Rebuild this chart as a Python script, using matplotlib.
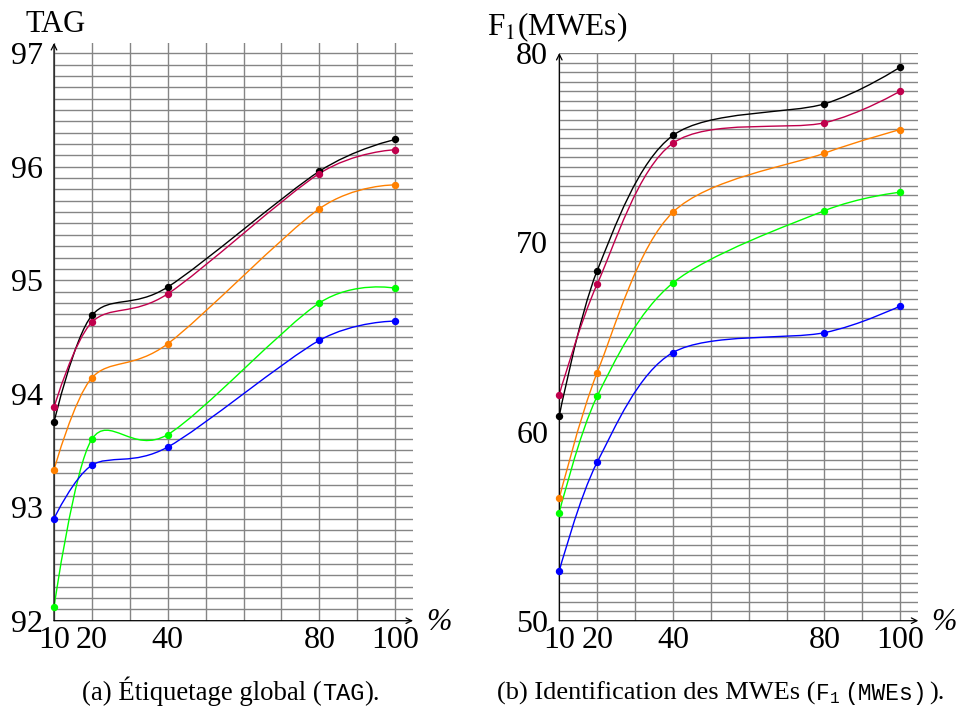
import numpy as np
import matplotlib
matplotlib.use("Agg")
import matplotlib.pyplot as plt
from matplotlib.path import Path
from matplotlib.patches import PathPatch

plt.rcParams["font.family"] = ["Liberation Serif", "DejaVu Serif"]
plt.rcParams["mathtext.fontset"] = "stix"

# share of the training data (%)
sizes = [10, 20, 40, 80, 100]
series_colors = ["black", "#c0004c", "#ff8000", "#00ff00", "#0000ff"]

# (a) TAG
tag_black = [93.75, 94.69, 94.94, 95.96, 96.24]
tag_purple = [93.88, 94.63, 94.88, 95.94, 96.15]
tag_orange = [93.33, 94.14, 94.44, 95.63, 95.84]
tag_green = [92.12, 93.60, 93.64, 94.80, 94.93]
tag_blue = [92.90, 93.37, 93.53, 94.47, 94.64]

# (b) F1(MWEs)
mwe_black = [60.83, 68.51, 75.66, 77.33, 79.27]
mwe_purple = [61.96, 67.80, 75.25, 76.33, 78.00]
mwe_orange = [56.47, 63.12, 71.60, 74.72, 75.97]
mwe_green = [55.72, 61.87, 67.86, 71.68, 72.66]
mwe_blue = [52.63, 58.38, 64.18, 65.23, 66.64]

W, H = 959, 707
GRID = "#858585"
TICK_FS = 23


def smooth_path(xs, ys, k=0.2775 * 0.55):
    # pgfplots "smooth": cardinal bezier, first/last control point on the end point
    p = np.column_stack([xs, ys]).astype(float)
    n = len(p)
    verts, codes = [p[0]], [Path.MOVETO]
    for i in range(n - 1):
        c1 = p[i] + k * (p[i + 1] - p[i - 1]) if i > 0 else p[i]
        c2 = p[i + 1] - k * (p[i + 2] - p[i]) if i + 2 < n else p[i + 1]
        verts += [c1, c2, p[i + 1]]
        codes += [Path.CURVE4] * 3
    return Path(verts, codes)


def draw_panel(ax, series, ylim, ymajor, yminor_step, xmax):
    ax.set_xlim(10, xmax)
    ax.set_ylim(*ylim)
    for s in ax.spines.values():
        s.set_visible(False)
    ax.set_xticks(sizes)
    ax.set_xticks(np.arange(10, 101, 10), minor=True)
    ax.set_yticks(ymajor)
    ax.set_yticks(np.arange(ymajor[0], ymajor[-1] + 1e-6, yminor_step), minor=True)
    ax.grid(True, which="both", color=GRID, lw=1.0)
    ax.set_axisbelow(True)
    ax.tick_params(which="both", length=0, labelsize=TICK_FS)
    ax.tick_params(axis="y", pad=8)
    ax.tick_params(axis="x", pad=4)
    for ys, c in zip(series, series_colors):
        ax.add_patch(PathPatch(smooth_path(sizes, ys), fc="none", ec=c, lw=1.0,
                               zorder=3, clip_on=False))
        ax.plot(sizes, ys, "o", color=c, ms=4.3, zorder=4, clip_on=False)
    arrow = dict(arrowstyle="->", color="black", lw=0.9, shrinkA=0, shrinkB=0)
    ax.annotate("", xy=(1, 0), xytext=(0, 0), xycoords="axes fraction", arrowprops=arrow)
    ax.annotate("", xy=(0, 1), xytext=(0, 0), xycoords="axes fraction", arrowprops=arrow)


def caption(fig, xc, y, parts):
    # parts: (text, family, size, dy in px, gap before in px)
    r = fig.canvas.get_renderer()
    texts = []
    for s, fam, fs, dy, gap in parts:
        t = fig.text(0, y + dy / H, s, family=fam, fontsize=fs, va="baseline", ha="left")
        texts.append((t, gap))
    widths = [t.get_window_extent(r).width + g for t, g in texts]
    x = xc - sum(widths) / 2
    for (t, g), w in zip(texts, widths):
        t.set_x((x + g) / W)
        x += w


fig = plt.figure(figsize=(W / 100, H / 100), dpi=100)
y0 = 620.7
axL = fig.add_axes([54 / W, 1 - y0 / H, 359 / W, (y0 - 43) / H])
axR = fig.add_axes([559.3 / W, 1 - y0 / H, 359 / W, (y0 - 53) / H])

draw_panel(axL, [tag_black, tag_purple, tag_orange, tag_green, tag_blue],
           (92, 97.09), [92, 93, 94, 95, 96, 97], 0.1, 104.7)
draw_panel(axR, [mwe_black, mwe_purple, mwe_orange, mwe_green, mwe_blue],
           (50, 80.02), [50, 60, 70, 80], 0.5, 104.8)

fig.text(25 / W, 1 - 32 / H, "TAG", fontsize=22, va="baseline")
fig.text(487 / W, 1 - 35 / H, r"F$_1$(MWEs)", fontsize=22.5, va="baseline")
fig.text(426 / W, 1 - 622 / H, "%", fontsize=22, style="italic", va="center")
fig.text(931 / W, 1 - 622 / H, "%", fontsize=22, style="italic", va="center")

serif, mono = ["Liberation Serif"], ["Liberation Mono"]
ycap = 1 - 700 / H
caption(fig, 231, ycap, [("(a) Étiquetage global (", serif, 19.3, 0, 0),
                         ("TAG", mono, 17, 0, 0), (").", serif, 19.3, 0, 0)])
caption(fig, 721, ycap, [("(b) Identification des MWEs (", serif, 19, 0, 0),
                         ("F", mono, 16.5, 0, 0), ("1", mono, 11.5, -3, 0),
                         ("(MWEs)", mono, 16.5, 0, 5), (").", serif, 19, 0, 3)])

fig.savefig("out.png", dpi=100, facecolor="white")
